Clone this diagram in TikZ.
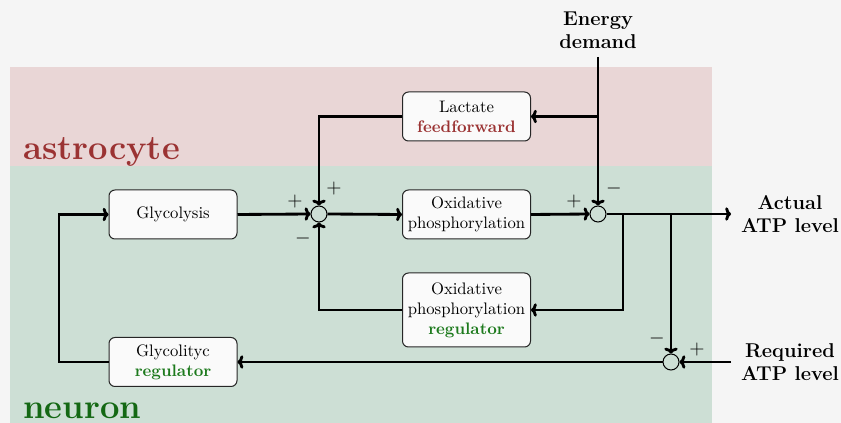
\documentclass[tikz,border=0pt]{standalone}
\usetikzlibrary{arrows.meta}
\definecolor{bgc}{HTML}{F5F5F5}
\definecolor{astrofill}{HTML}{E9D6D6}
\definecolor{neurfill}{HTML}{CDDFD5}
\definecolor{astrotext}{HTML}{9B3333}
\definecolor{neurtext}{HTML}{146814}
\definecolor{regtext}{HTML}{1D7A1D}
\definecolor{boxfill}{HTML}{FAFAFA}
\tikzset{
  blockbox/.style={draw=black!85, line width=0.6pt, fill=boxfill, rounded corners=3.6pt,
    minimum width=76.8pt, minimum height=29.4pt, align=center, inner sep=2pt,
    font=\normalsize},
  sumnode/.style={circle, draw=black, line width=0.6pt, minimum size=9.6pt, inner sep=0pt},
  conn/.style={line width=1.7pt, -{To[length=3.5pt,width=8pt]}},
  signlbl/.style={inner sep=0pt, font=\large},
  sidelbl/.style={align=center, font=\large\bfseries, inner sep=0pt},
  regionlbl/.style={anchor=base west, font=\huge\bfseries, inner sep=0pt}
}
\begin{document}
\begin{tikzpicture}[x=0.6pt,y=-0.6pt]
\useasboundingbox[fill=bgc] (0,0) rectangle (841,423);
% cell regions
\fill[astrofill] (10,67) rectangle (712,166);
\fill[neurfill] (10,166) rectangle (712,423);
\node[regionlbl, text=astrotext] (astro) at (23,160) {astrocyte};
\node[regionlbl, text=neurtext] (neur) at (23,419) {neuron};

% blocks
\node[blockbox] (glyc) at (173,214.5) {Glycolysis};
\node[blockbox] (lact) at (466.5,116.5) {Lactate\\\textcolor{astrotext}{\bfseries feedforward}};
\node[blockbox] (ox) at (466.5,214.5) {Oxidative\\phosphorylation};
\node[blockbox, minimum height=44.4pt] (oxreg) at (466.5,310) {Oxidative\\phosphorylation\\\textcolor{regtext}{\bfseries regulator}};
\node[blockbox] (greg) at (173,362) {Glycolityc\\\textcolor{regtext}{\bfseries regulator}};

% summing junctions
\node[sumnode] (s1) at (319,214) {};
\node[sumnode] (s2) at (598,214) {};
\node[sumnode] (s3) at (671,362) {};

% external signals
\node[sidelbl] (ed) at (598,30) {Energy\\demand};
\node[sidelbl] (act) at (790,214) {Actual\\ATP level};
\node[sidelbl] (req) at (790,362) {Required\\ATP level};
\coordinate (edin) at (598,57);
\coordinate (actout) at (731,214);
\coordinate (reqin) at (731,362);
\coordinate (b1) at (623,214);
\coordinate (b2) at (671,214);
\coordinate (lft) at (59,290);

% connectors
\draw[conn] (glyc.east) -- (s1.west);
\draw[conn] (lact.west) -| (s1.north);
\draw[conn] (oxreg.west) -| (s1.south);
\draw[conn] (s1.east) -- (ox.west);
\draw[conn] (ox.east) -- (s2.west);
\draw[conn] (edin) -- (s2.north);
\draw[conn] (s2 |- lact.east) -- (lact.east);
\draw[conn] (s2.east) -- (actout);
\draw[conn] (b1) |- (oxreg.east);
\draw[conn] (b2) -- (s3.north);
\draw[conn] (reqin) -- (s3.east);
\draw[conn] (s3.west) -- (greg.east);
\draw[conn] (greg.west) -| (lft) |- (glyc.west);

% signs
\node[signlbl] (p1a) at (295,202) {$+$};
\node[signlbl] (p1b) at (334,189) {$+$};
\node[signlbl] (m1) at (303,239) {$-$};
\node[signlbl] (p2) at (574,202) {$+$};
\node[signlbl] (m2) at (614,189) {$-$};
\node[signlbl] (m3) at (657,339) {$-$};
\node[signlbl] (p3) at (697,350) {$+$};
\end{tikzpicture}
\end{document}
